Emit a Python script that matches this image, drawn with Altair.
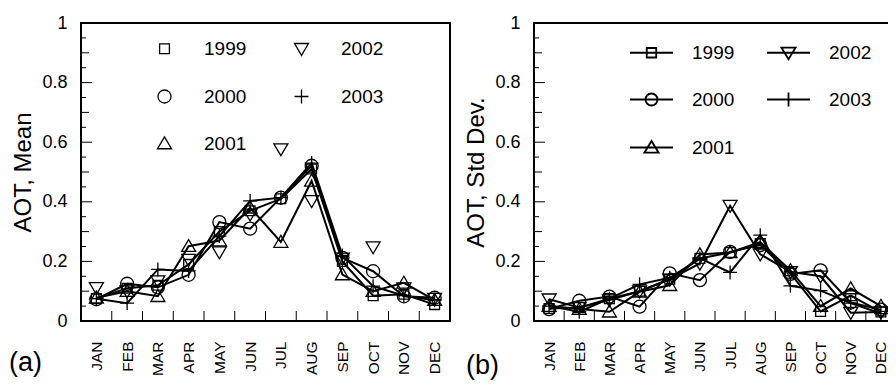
import altair as alt
import pandas as pd

months = ["JAN", "FEB", "MAR", "APR", "MAY", "JUN", "JUL", "AUG", "SEP", "OCT", "NOV", "DEC"]
years = ["1999", "2000", "2001", "2002", "2003"]

# Panel (a): AOT monthly mean
mean_1999 = [0.075, 0.11, 0.12, 0.19, 0.30, 0.37, 0.41, 0.51, 0.20, 0.085, 0.09, 0.055]
mean_2000 = [0.073, 0.125, 0.113, 0.155, 0.332, 0.31, 0.414, 0.521, 0.212, 0.167, 0.083, 0.078]
mean_2001 = [0.078, 0.10, 0.083, 0.251, 0.27, 0.38, 0.265, 0.47, 0.156, 0.10, 0.128, 0.07]
mean_2002 = [0.111, 0.10, 0.134, 0.206, 0.231, 0.358, 0.577, 0.403, 0.21, 0.248, 0.11, 0.075]
mean_2003 = [0.075, 0.06, 0.173, 0.168, 0.285, 0.403, 0.414, 0.53, 0.22, 0.117, 0.085, 0.07]

# Panel (b): AOT monthly standard deviation
sd_1999 = [0.042, 0.045, 0.075, 0.10, 0.14, 0.21, 0.23, 0.26, 0.16, 0.032, 0.085, 0.03]
sd_2000 = [0.04, 0.068, 0.082, 0.048, 0.16, 0.137, 0.232, 0.255, 0.158, 0.17, 0.062, 0.038]
sd_2001 = [0.05, 0.04, 0.031, 0.098, 0.12, 0.223, 0.23, 0.265, 0.17, 0.05, 0.109, 0.05]
sd_2002 = [0.073, 0.045, 0.07, 0.10, 0.14, 0.193, 0.387, 0.224, 0.165, 0.15, 0.028, 0.03]
sd_2003 = [0.05, 0.031, 0.075, 0.123, 0.145, 0.21, 0.163, 0.288, 0.118, 0.102, 0.06, 0.025]

y_label_values = [0, 0.2, 0.4, 0.6, 0.8, 1]
y_major = [0.2, 0.4, 0.6, 0.8]
y_mid = [0.1, 0.3, 0.5, 0.7, 0.9]
y_minor = [0.05, 0.15, 0.25, 0.35, 0.45, 0.55, 0.65, 0.75, 0.85, 0.95]
x_ticks = [1.5, 2.5, 3.5, 4.5, 5.5, 6.5, 7.5, 8.5, 9.5, 10.5, 11.5]


def long_table(series):
    rows = []
    for yr, vals in zip(years, series):
        for i, v in enumerate(vals):
            rows.append({"year": yr, "month": i + 1, "value": v})
    return pd.DataFrame(rows)


df_mean = long_table([mean_1999, mean_2000, mean_2001, mean_2002, mean_2003])
df_sd = long_table([sd_1999, sd_2000, sd_2001, sd_2002, sd_2003])

# ---- styles ----
FONT = "Liberation Sans"
H = 298
marker_paths = {
    "1999": "M-0.7,-0.7H0.7V0.7H-0.7Z",
    "2000": "M0.93,0A0.93,0.93,0,1,1,-0.93,0A0.93,0.93,0,1,1,0.93,0Z",
    "2001": "M0,-0.95L1,0.75L-1,0.75Z",
    "2002": "M0,0.95L1,-0.75L-1,-0.75Z",
    "2003": "M-1,0H1M0,-1V1",
}
legend_line_paths = {
    "1999": "M-1,0H1M-0.22,-0.22H0.22V0.22H-0.22Z",
    "2000": "M-1,0H1M0.28,0A0.28,0.28,0,1,1,-0.28,0A0.28,0.28,0,1,1,0.28,0Z",
    "2001": "M-1,0H1M0,-0.3L0.33,0.24L-0.33,0.24Z",
    "2002": "M-1,0H1M0,0.3L0.33,-0.24L-0.33,-0.24Z",
    "2003": "M-1,0H1M0,-0.33V0.33",
}

xs = alt.Scale(domain=[0.5, 12.5], nice=False, zero=False)
ys = alt.Scale(domain=[0, 1], nice=False, zero=False)
month_expr = "[" + ",".join("'%s'" % m for m in months) + "][datum.value - 1]"

xax = alt.Axis(values=list(range(1, 13)), labelExpr=month_expr, labelAngle=270,
               ticks=False, domain=False, grid=False, title=None, labelOverlap=False,
               labelFlush=False, labelPadding=20, labelFontSize=15.5, labelFont=FONT,
               labelColor="black")


def panel(df, W, ytitle, tag, tag_x, tag_y, legend_with_lines, line_years):
    yax = alt.Axis(values=y_label_values, format="~g", ticks=False, domain=False, grid=False,
                   title=ytitle, labelPadding=14, labelFontSize=18, labelFont=FONT,
                   labelColor="black", titleFontSize=24, titleFont=FONT, labelOverlap=False,
                   titleFontWeight="normal", titleColor="black", titlePadding=6)
    X = alt.X("month:Q", scale=xs, axis=xax)
    Y = alt.Y("value:Q", scale=ys, axis=yax)
    base = alt.Chart(df)
    lines = base.transform_filter(
        alt.FieldOneOfPredicate(field="year", oneOf=line_years)
    ).mark_line(color="black", strokeWidth=2).encode(x=X, y=Y, detail="year:N")
    if legend_with_lines:
        pt_legend = None
    else:
        pt_legend = alt.Legend(orient="none", legendX=74, legendY=16, columns=2, title=None,
                               labelFontSize=19, labelFont=FONT, labelColor="black",
                               labelOffset=30, columnPadding=44, rowPadding=27,
                               symbolSize=196, symbolStrokeWidth=1.3, symbolOpacity=1,
                               symbolStrokeColor="black", padding=0)
    points = base.mark_point(filled=False, color="black", strokeWidth=1.3, size=196,
                             opacity=1).encode(
        x=X, y=Y,
        shape=alt.Shape("year:N",
                        scale=alt.Scale(domain=years,
                                        range=[marker_paths[y] for y in years]),
                        legend=pt_legend),
    )
    tick_layers = []
    for vals, ln in ((y_major, 11), (y_mid, 8), (y_minor, 5)):
        tick_layers.append(
            alt.Chart(pd.DataFrame({"value": vals})).mark_rule(color="black", strokeWidth=1).encode(
                y=Y, x=alt.value(0), x2=alt.value(ln))
        )
    tick_layers.append(
        alt.Chart(pd.DataFrame({"month": x_ticks})).mark_rule(color="black", strokeWidth=1).encode(
            x=X, y=alt.value(H), y2=alt.value(H - 10))
    )
    tag_text = alt.Chart(pd.DataFrame({"t": [tag]})).mark_text(
        align="left", baseline="alphabetic", fontSize=27, font=FONT, color="black"
    ).encode(text="t:N", x=alt.value(tag_x), y=alt.value(tag_y))

    layers = [lines, points] + tick_layers + [tag_text]
    if legend_with_lines:
        leg = base.transform_filter("false").mark_point(
            filled=False, color="black", strokeWidth=1.8, size=1849, opacity=1).encode(
            x=X, y=Y,
            shape=alt.Shape("year:N",
                            scale=alt.Scale(domain=years,
                                            range=[legend_line_paths[y] for y in years]),
                            legend=alt.Legend(orient="none", legendX=95, legendY=7, columns=2,
                                              title=None, labelFontSize=19, labelFont=FONT,
                                              labelColor="black", labelOffset=18,
                                              columnPadding=28, rowPadding=14,
                                              symbolSize=1849, symbolStrokeWidth=1.8,
                                              symbolOpacity=1,
                                              symbolStrokeColor="black", padding=0)),
        )
        layers.append(leg)
    ch = alt.layer(*layers).properties(width=W, height=H)
    if legend_with_lines:
        ch = ch.resolve_scale(shape="independent").resolve_legend(shape="independent")
    return ch


left = panel(df_mean, 369, "AOT, Mean", "(a)", -72, 348, False, ["1999", "2000", "2001", "2003"])
right = panel(df_sd, 362, "AOT, Std Dev.", "(b)", -68, 351, True, years)

chart = alt.hconcat(left, right, spacing=84, bounds="flush").resolve_scale(
    shape="independent").resolve_legend(shape="independent").configure_view(
    stroke="black", strokeWidth=2).configure_axis(labelOverlap=False).properties(
    padding={"left": 0, "top": 5, "right": -9, "bottom": 0})

chart.save("out.html", embed_options={"renderer": "svg", "actions": False})
